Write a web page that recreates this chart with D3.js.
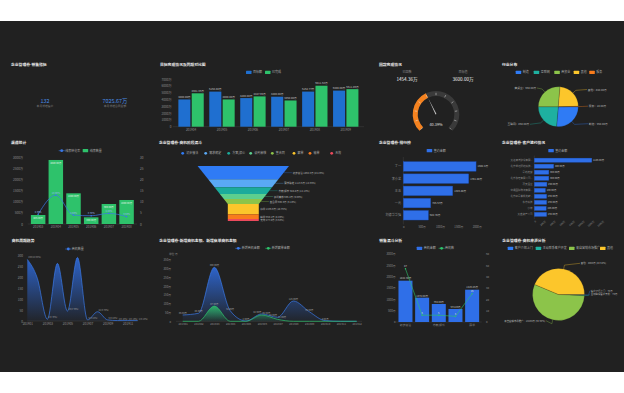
<!DOCTYPE html>
<html>
<head>
<meta charset="utf-8">
<script src="https://cdn.jsdelivr.net/npm/d3@7"></script>
<style>
body { margin: 0; background: #fff; }
svg { display: block; font-family: "Noto Sans CJK SC", "Noto Sans", sans-serif; }
</style>
</head>
<body>
<svg id="chart" width="624" height="393"></svg>
<script>
// ---- data ----
const kpiValues = ["132", "7025.67万"];
const kpiLabels = ["本月新增客户", "本月新增合同金额"];

const targetMonths = ["201904", "201905", "201906", "201907", "201908", "201909"];
const targetPlan = [4000, 5150.88, 4200, 4400, 5152.77, 5300];
const targetDone = [4901.36, 4000, 4447.95, 3850, 6011.53, 5511.86];

const gaugeDone = 1454.36;
const gaugeTarget = 3600;

const industryNames = ["制造", "互联网", "商贸业", "其他", "服务"];
const industryValues = [950, 850, 950, 840, 10];

const channelMonths = ["201903", "201904", "201905", "201906", "201907", "201908"];
const channelAmounts = [405, 2880, 1380, 300, 900, 1080];
const channelRates = [4.35, 13.0, 4.0, 3.7, 4.8, 3.3];

const funnelStages = ["初步接洽", "需求确定", "方案/报价", "谈判审核", "签合同", "赢单", "输单", "无效"];
const funnelValues = [1856.3, 1113.6, 928.8, 696.2, 696.9, 1435.9, 650.1, 277.8];

const rankNames = ["丁一", "李小龙", "王五", "一元", "刘德华华强"];
const rankValues = [1982.4, 1781.88, 1345.88, 745.57, 682.78];

const customerNames = ["大连港湾建设有限...", "北京世纪阳光科技...", "星光传媒", "北京鑫旺有限公司...", "蓝天酒业",
  "中通国际物流有限...", "北京红星美凯龙家...", "东方科技", "小米", "大唐资产公司"];
const customerValues = [1186, 400, 300, 300, 260, 230, 255, 255, 245, 255];

const trendMonths = ["201901", "201902", "201903", "201904", "201905", "201906",
  "201907", "201908", "201909", "201910", "201911", "201912"];
const trendValues = [280, 194, 8, 262, 45, 289, 5, 42, 5, 2, 2, 2];

const oppMonths = ["201901", "201902", "201903", "201904", "201905", "201906",
  "201907", "201908", "201909", "201910", "201911", "201912"];
const oppNew = [36, 46, 308, 61, 2, 42, 23, 116, 55, 4, 0, 0];
const oppWon = [0, 0, 87, 0, 0, 36, 11, 0, 0, 0, 0, 0];

const stageNames = ["初步接洽", "需求确定", "方案/报价", "谈判审核", "赢单"];
const stageAmounts = [1822.3, 1072, 794, 574.85, 1425.46];
const stageCounts = [47, 6, 6, 5, 25];

const sourceNames = ["客户介绍上门", "主动联系客户开发", "来自营销市场推广", "其他"];
const sourceValues = [70, 70, 10190, 8000];

// ---- setup ----
const svg = d3.select("#chart");
const AX = "#8c8c8c";
const LBL = "#c4c4c4";
const BLUE = "#2f6fe8";
const GREEN = "#2ec26b";

svg.append("rect").attr("x", 0).attr("y", 21).attr("width", 624).attr("height", 351).attr("fill", "#212121");

function title(x, y, t) {
  svg.append("text").attr("x", x).attr("y", y).attr("fill", "#e8e8e8")
    .attr("font-size", 3.8).attr("font-weight", "bold").text(t);
}

function txt(x, y, t, opts = {}) {
  return svg.append("text").attr("x", x).attr("y", y)
    .attr("fill", opts.fill || LBL).attr("font-size", opts.size || 3)
    .attr("text-anchor", opts.anchor || "start").text(t);
}

function styleAxis(g, size) {
  g.attr("font-size", size || 3.1).attr("font-family", null);
  g.select(".domain").remove();
  g.selectAll(".tick line").remove();
  g.selectAll(".tick text").attr("fill", AX);
  return g;
}

function legendRect(x, y, color, label) {
  svg.append("rect").attr("x", x).attr("y", y - 1.6).attr("width", 5.5).attr("height", 3.2).attr("rx", 0.5).attr("fill", color);
  txt(x + 7, y + 1.1, label, {fill: "#a8a8a8", size: 3});
}

function legendDot(x, y, color, label, withLine) {
  if (withLine) {
    svg.append("line").attr("x1", x - 3).attr("x2", x + 3).attr("y1", y).attr("y2", y).attr("stroke", color).attr("stroke-width", 0.6);
  }
  svg.append("circle").attr("cx", x).attr("cy", y).attr("r", 1.4).attr("fill", color);
  txt(x + 3.5, y + 1.1, label, {fill: "#a8a8a8", size: 3});
}

const defs = svg.append("defs");
function vGrad(id, color, top, bottom) {
  const g = defs.append("linearGradient").attr("id", id).attr("x1", 0).attr("y1", 0).attr("x2", 0).attr("y2", 1);
  g.append("stop").attr("offset", "0%").attr("stop-color", color).attr("stop-opacity", top);
  g.append("stop").attr("offset", "100%").attr("stop-color", color).attr("stop-opacity", bottom);
}
vGrad("gBlue", "#2f6fe8", 0.85, 0.05);
vGrad("gGreen", "#2ec26b", 0.85, 0.05);

// ---- panel 1: KPI ----
title(11, 65.5, "企业管理卷-销售指标");
[45, 115].forEach((cx, i) => {
  txt(cx, 102.6, kpiValues[i], {fill: "#4a8ee6", size: 5.4, anchor: "middle"});
  txt(cx, 107, kpiLabels[i], {fill: "#7c7c7c", size: 2.8, anchor: "middle"});
});

// ---- panel 2: target vs done ----
(function () {
  title(160, 65.5, "目标完成情况及同期对比图");
  legendRect(246, 72.3, "#1f6fd0", "目标额");
  legendRect(265, 72.3, GREEN, "已完成");
  const x = d3.scaleBand().domain(targetMonths).range([172.8, 364]).padding(0.18);
  const sub = d3.scaleBand().domain([0, 1]).range([0, x.bandwidth()]).paddingInner(0.1);
  const y = d3.scaleLinear().domain([0, 7000]).range([126.7, 79]);
  styleAxis(svg.append("g").attr("transform", "translate(172.5,0)")
    .call(d3.axisLeft(y).ticks(7).tickSize(0).tickPadding(1).tickFormat(d => d ? d + "万" : "0")));
  styleAxis(svg.append("g").attr("transform", "translate(0,126.7)")
    .call(d3.axisBottom(x).tickSize(0).tickPadding(2)));
  svg.append("line").attr("x1", 172.8).attr("x2", 364).attr("y1", 126.7).attr("y2", 126.7).attr("stroke", "#4a4a4a").attr("stroke-width", 0.4);
  [[targetPlan, "#1f6fd0"], [targetDone, GREEN]].forEach(([vals, color], k) => {
    targetMonths.forEach((m, i) => {
      const bx = x(m) + sub(k);
      svg.append("rect").attr("x", bx).attr("y", y(vals[i])).attr("width", sub.bandwidth())
        .attr("height", y(0) - y(vals[i])).attr("fill", color);
      txt(bx + sub.bandwidth() / 2, y(vals[i]) - 1.3, vals[i].toFixed(2) + "万", {size: 2.7, anchor: "middle"});
    });
  });
})();

// ---- panel 3: gauge ----
(function () {
  title(379, 65.5, "回款完成情况");
  txt(407, 73.2, "已回款", {fill: "#8a8a8a", size: 3, anchor: "middle"});
  txt(407, 80.8, gaugeDone.toFixed(2) + "万", {fill: "#f0f0f0", size: 4.6, anchor: "middle"});
  txt(463, 73.2, "目标值", {fill: "#8a8a8a", size: 3, anchor: "middle"});
  txt(463, 80.8, gaugeTarget.toFixed(2) + "万", {fill: "#f0f0f0", size: 4.6, anchor: "middle"});
  const cx = 436, cy = 114.3, r = 23.3;
  const ratio = gaugeDone / gaugeTarget;
  const ang = d3.scaleLinear().domain([0, 1]).range([-0.75 * Math.PI, 0.75 * Math.PI]);
  const g = svg.append("g").attr("transform", `translate(${cx},${cy})`);
  const arc = d3.arc().innerRadius(r - 5).outerRadius(r);
  g.append("path").attr("d", arc({startAngle: ang(0), endAngle: ang(1)})).attr("fill", "#3a3a3a");
  g.append("path").attr("d", arc({startAngle: ang(0), endAngle: ang(ratio)})).attr("fill", "#f5821f");
  d3.range(0, 1.0001, 0.1).forEach(t => {
    const a = ang(t);
    g.append("line").attr("x1", Math.sin(a) * (r - 4.2)).attr("y1", -Math.cos(a) * (r - 4.2))
      .attr("x2", Math.sin(a) * (r - 1.8)).attr("y2", -Math.cos(a) * (r - 1.8))
      .attr("stroke", "#e8e8e8").attr("stroke-width", 0.5);
  });
  const pa = ang(ratio), pl = r - 5;
  const px = Math.sin(pa), py = -Math.cos(pa);
  g.append("path").attr("d", `M${-py * 0.5},${px * 0.5} L${px * pl},${py * pl} L${py * 0.5},${-px * 0.5} Z`)
    .attr("fill", "#cfcfcf");
  txt(cx, 125.5, (Math.floor(ratio * 10000) / 100).toFixed(2) + "%", {fill: "#e0e0e0", size: 3.8, anchor: "middle"});
})();

// ---- pie helper ----
function drawPie(cx, cy, r, values, colors, labelFn, labelPos, labelSize) {
  const pie = d3.pie().sort(null).startAngle(Math.PI / 2).endAngle(Math.PI / 2 + 2 * Math.PI);
  const arcs = pie(values);
  const arc = d3.arc().innerRadius(0).outerRadius(r);
  const g = svg.append("g").attr("transform", `translate(${cx},${cy})`);
  g.selectAll("path").data(arcs).join("path").attr("d", arc).attr("fill", (d, i) => colors[i])
    .attr("stroke", "#212121").attr("stroke-width", 0.2);
  arcs.forEach((a, i) => {
    const p = labelPos[i];
    if (!p) return;
    const mid = (a.startAngle + a.endAngle) / 2;
    const sx = Math.sin(mid) * r, sy = -Math.cos(mid) * r;
    const ex = Math.sin(mid) * (r + 4), ey = -Math.cos(mid) * (r + 4);
    const lx = p[0] - cx, ly = p[1] - cy;
    g.append("polyline").attr("points", `${sx},${sy} ${ex},${ey} ${lx},${ly}`)
      .attr("fill", "none").attr("stroke", colors[i]).attr("stroke-width", 0.35);
    g.append("text").attr("x", lx + (p[2] === "end" ? -0.8 : 0.8)).attr("y", ly + 1)
      .attr("text-anchor", p[2]).attr("font-size", labelSize || 2.7).attr("fill", "#b8b8b8").text(labelFn(i, a));
  });
}

// ---- panel 4: industry pie ----
(function () {
  title(502, 65.5, "行业分布");
  const colors = ["#2f7bf5", "#1eb0a0", "#8cc44a", "#fcc62b", "#f97c1c"];
  const lx = [515.7, 533.7, 554.3, 573.7, 589.3];
  industryNames.forEach((n, i) => legendRect(lx[i], 72.3, colors[i], n));
  drawPie(558.3, 106.7, 20, industryValues, colors,
    i => industryNames[i] + "：" + industryValues[i].toFixed(2) + "万",
    [[588, 123.7, "start"], [530, 124.3, "end"], [537, 88, "end"], [587, 89.5, "start"], [588, 106.2, "start"]]);
})();

// ---- panel 5: channel bars + rate ----
(function () {
  title(11, 143.6, "渠道统计");
  legendDot(61.7, 150.7, "#3a78e6", "线索转化率", true);
  legendRect(82.7, 150.7, GREEN, "线索数量");
  const x = d3.scaleBand().domain(channelMonths).range([27.7, 137]).padding(0.18);
  const yL = d3.scaleLinear().domain([0, 3000]).range([224, 157.3]);
  const yR = d3.scaleLinear().domain([0, 30]).range([224, 157.3]);
  styleAxis(svg.append("g").attr("transform", "translate(23,0)")
    .call(d3.axisLeft(yL).ticks(6).tickSize(0).tickPadding(0).tickFormat(d => d ? d + "万" : "0")));
  styleAxis(svg.append("g").attr("transform", "translate(140,0)")
    .call(d3.axisRight(yR).ticks(6).tickSize(0).tickPadding(0)));
  styleAxis(svg.append("g").attr("transform", "translate(0,224)")
    .call(d3.axisBottom(x).tickSize(0).tickPadding(2)));
  svg.append("line").attr("x1", 27.7).attr("x2", 137).attr("y1", 224).attr("y2", 224).attr("stroke", "#4a4a4a").attr("stroke-width", 0.4);
  channelMonths.forEach((m, i) => {
    svg.append("rect").attr("x", x(m)).attr("y", yL(channelAmounts[i])).attr("width", x.bandwidth())
      .attr("height", yL(0) - yL(channelAmounts[i])).attr("fill", GREEN);
    txt(x(m) + x.bandwidth() / 2, yL(channelAmounts[i]) + 4, channelAmounts[i].toFixed(2) + "万", {size: 2.4, anchor: "middle", fill: "#e8f5ea"});
  });
  const line = d3.line().x((d, i) => x(channelMonths[i]) + x.bandwidth() / 2).y(d => yR(d)).curve(d3.curveMonotoneX);
  svg.append("path").attr("d", line(channelRates)).attr("fill", "none").attr("stroke", "#3a78e6").attr("stroke-width", 0.7);
  channelRates.forEach((v, i) => {
    const px = x(channelMonths[i]) + x.bandwidth() / 2;
    svg.append("circle").attr("cx", px).attr("cy", yR(v)).attr("r", 0.8).attr("fill", "#3a78e6");
    txt(px, yR(v) - 1.5, v.toFixed(2) + "%", {size: 2.4, anchor: "middle", fill: "#9ab8ee"});
  });
})();

// ---- panel 6: funnel ----
(function () {
  title(159, 143.6, "企业管理卷-商机阶段漏斗");
  const colors = ["#2f7bf5", "#5aa9f5", "#1bab9b", "#5ccf8e", "#8cc44a", "#fcc62b", "#f97c1c", "#ec4a5c"];
  const lx = [182.7, 205.7, 228.7, 250.7, 272.3, 294, 310, 331.7];
  funnelStages.forEach((n, i) => legendDot(lx[i], 153.3, colors[i], n, false));
  const cx = 243.3, yTop = 166, yNeck = 204, yBot = 221, wTop = 45.7, wNeck = 15.5;
  const hw = yy => yy <= yNeck ? wTop + (wNeck - wTop) * (yy - yTop) / (yNeck - yTop) : wNeck;
  const total = d3.sum(funnelValues);
  const y = d3.scaleLinear().domain([0, total]).range([yTop, yBot]);
  let acc = 0;
  funnelValues.forEach((v, i) => {
    const y0 = y(acc), y1 = y(acc + v);
    acc += v;
    const right = [[cx + hw(y0), y0]];
    if (y0 < yNeck && y1 > yNeck) right.push([cx + wNeck, yNeck]);
    right.push([cx + hw(y1), y1]);
    const left = right.map(p => [2 * cx - p[0], p[1]]).reverse();
    svg.append("path").attr("d", "M" + right.concat(left).map(p => p.join(",")).join("L") + "Z").attr("fill", colors[i]);
    const ym = (y0 + y1) / 2;
    const ex = cx + hw(ym);
    const off = hw(ym) > 16 ? 9 : 1.5;
    if (off > 2) {
      svg.append("line").attr("x1", ex).attr("x2", ex + off - 0.8).attr("y1", ym).attr("y2", ym)
        .attr("stroke", colors[i]).attr("stroke-width", 0.3);
    }
    txt(ex + off, ym + 1, `${funnelStages[i]} ${v.toFixed(1)}万 (${(v / total * 100).toFixed(2)}%)`, {size: 2.5, fill: "#b8b8b8"});
  });
})();

// ---- panel 7: ranking ----
(function () {
  title(379, 143.6, "企业管理卷-排行榜");
  legendRect(426.7, 150.7, BLUE, "签约金额");
  const y = d3.scaleBand().domain(rankNames).range([159, 222.7]).padding(0.22);
  const x = d3.scaleLinear().domain([0, 2000]).range([403.3, 476.7]);
  styleAxis(svg.append("g").attr("transform", "translate(0,225)")
    .call(d3.axisBottom(x).ticks(5).tickSize(0).tickPadding(1).tickFormat(d => d ? d + "万" : "0")), 2.8);
  styleAxis(svg.append("g").attr("transform", "translate(401,0)")
    .call(d3.axisLeft(y).tickSize(0).tickPadding(0)));
  svg.append("line").attr("x1", 403.3).attr("x2", 403.3).attr("y1", 157).attr("y2", 224.5).attr("stroke", "#4a4a4a").attr("stroke-width", 0.4);
  rankNames.forEach((n, i) => {
    svg.append("rect").attr("x", x(0)).attr("y", y(n)).attr("width", x(rankValues[i]) - x(0))
      .attr("height", y.bandwidth()).attr("fill", BLUE).attr("stroke", "#1b4fb8").attr("stroke-width", 0.4);
    txt(x(rankValues[i]) + 1.5, y(n) + y.bandwidth() / 2 + 1, rankValues[i] + "万", {size: 2.6});
  });
})();

// ---- panel 8: customers ----
(function () {
  title(502, 143.6, "企业管理卷-客户签约情况");
  legendRect(548.3, 150.7, BLUE, "签约金额");
  const y = d3.scaleBand().domain(customerNames).range([156.3, 218.3]).padding(0.3);
  const x = d3.scaleLinear().domain([0, 1400]).range([534.3, 602.2]);
  const gx = styleAxis(svg.append("g").attr("transform", "translate(0,220)")
    .call(d3.axisBottom(x).ticks(7).tickSize(0).tickPadding(1).tickFormat(d => d ? d + "万" : "0")), 2.5);
  gx.selectAll(".tick text").attr("transform", "rotate(-40)").attr("text-anchor", "end").attr("dy", "0.6em");
  styleAxis(svg.append("g").attr("transform", "translate(532.5,0)")
    .call(d3.axisLeft(y).tickSize(0).tickPadding(0)), 2.5);
  svg.append("line").attr("x1", 534.3).attr("x2", 534.3).attr("y1", 155.5).attr("y2", 219).attr("stroke", "#4a4a4a").attr("stroke-width", 0.4);
  customerNames.forEach((n, i) => {
    svg.append("rect").attr("x", x(0)).attr("y", y(n)).attr("width", x(customerValues[i]) - x(0))
      .attr("height", y.bandwidth()).attr("fill", BLUE).attr("stroke", "#1b4fb8").attr("stroke-width", 0.3);
    txt(x(customerValues[i]) + 1.2, y(n) + y.bandwidth() / 2 + 0.9, customerValues[i].toFixed(2) + "万", {size: 2.4});
  });
})();

// ---- panel 9: trend line ----
(function () {
  title(11.7, 242, "商机周期趋势");
  legendDot(68.3, 249, "#3a78e6", "商机数量", true);
  const x = d3.scalePoint().domain(trendMonths).range([27.3, 137.7]);
  const y = d3.scaleLinear().domain([0, 300]).range([321, 255]);
  styleAxis(svg.append("g").attr("transform", "translate(23,0)")
    .call(d3.axisLeft(y).ticks(6).tickSize(0).tickPadding(0)));
  styleAxis(svg.append("g").attr("transform", "translate(0,321)")
    .call(d3.axisBottom(x).tickValues(trendMonths.filter((d, i) => i % 2 === 0)).tickSize(0).tickPadding(2)));
  svg.append("line").attr("x1", 27.3).attr("x2", 137.7).attr("y1", 321).attr("y2", 321).attr("stroke", "#4a4a4a").attr("stroke-width", 0.4);
  const area = d3.area().x((d, i) => x(trendMonths[i])).y0(y(0)).y1(d => y(d)).curve(d3.curveMonotoneX);
  const line = d3.line().x((d, i) => x(trendMonths[i])).y(d => y(d)).curve(d3.curveMonotoneX);
  svg.append("path").attr("d", area(trendValues)).attr("fill", "url(#gBlue)");
  svg.append("path").attr("d", line(trendValues)).attr("fill", "none").attr("stroke", "#3a78e6").attr("stroke-width", 0.7);
  const sum = d3.sum(trendValues);
  trendValues.forEach((v, i) => {
    if (i % 2 === 0 || v < 50) {
      txt(x(trendMonths[i]) + 1, y(v) - 1, v + "(" + (v / sum * 100).toFixed(2) + "%)", {size: 2.2, fill: "#9a9a9a"});
    }
  });
})();

// ---- panel 10: opportunity amounts ----
(function () {
  title(159.3, 242, "企业管理卷-新增商机金额、新增赢单商机金额");
  legendDot(238.3, 248.3, "#3a78e6", "新增商机金额", true);
  legendDot(268.3, 248.3, GREEN, "新增赢单金额", true);
  txt(173.3, 255, "单位:万", {size: 2.7, fill: AX, anchor: "middle"});
  const x = d3.scalePoint().domain(oppMonths).range([182.7, 356.7]);
  const y = d3.scaleLinear().domain([0, 350]).range([321.3, 260]);
  styleAxis(svg.append("g").attr("transform", "translate(171,0)")
    .call(d3.axisLeft(y).ticks(7).tickSize(0).tickPadding(0).tickFormat(d => d ? d + "万" : "0")), 2.8);
  styleAxis(svg.append("g").attr("transform", "translate(0,321.3)")
    .call(d3.axisBottom(x).tickSize(0).tickPadding(2)), 2.8);
  svg.append("line").attr("x1", 176).attr("x2", 362).attr("y1", 321.3).attr("y2", 321.3).attr("stroke", "#4a4a4a").attr("stroke-width", 0.4);
  [[oppNew, "#3a78e6", "gBlue", 0], [oppWon, GREEN, "gGreen", 1]].forEach(([vals, color, grad, k]) => {
    const area = d3.area().x((d, i) => x(oppMonths[i])).y0(y(0)).y1(d => y(d)).curve(d3.curveMonotoneX);
    const line = d3.line().x((d, i) => x(oppMonths[i])).y(d => y(d)).curve(d3.curveMonotoneX);
    svg.append("path").attr("d", area(vals)).attr("fill", `url(#${grad})`);
    svg.append("path").attr("d", line(vals)).attr("fill", "none").attr("stroke", color).attr("stroke-width", 0.7);
    vals.forEach((v, i) => {
      if (v <= 0) return;
      const close = oppNew[i] > 0 && oppWon[i] > 0 && Math.abs(oppNew[i] - oppWon[i]) < 30;
      const lx = x(oppMonths[i]) + (close ? (k === 0 ? -0.5 : 0.5) : 0);
      const anchor = close ? (k === 0 ? "end" : "start") : "middle";
      txt(lx, y(v) - 1, v.toFixed(2) + "万", {size: 2.3, fill: "#a8a8a8", anchor: anchor});
    });
  });
})();

// ---- panel 11: stage bars + counts ----
(function () {
  title(379.3, 242, "销售漏斗分析");
  legendRect(416.7, 248.3, BLUE, "商机金额");
  legendDot(441.6, 248.3, GREEN, "商机数", true);
  const x = d3.scaleBand().domain(stageNames).range([395.8, 481.8]).padding(0.16);
  const yL = d3.scaleLinear().domain([0, 3000]).range([322, 254]);
  const yR = d3.scaleLinear().domain([0, 60]).range([322, 254]);
  styleAxis(svg.append("g").attr("transform", "translate(395.5,0)")
    .call(d3.axisLeft(yL).ticks(6).tickSize(0).tickPadding(0).tickFormat(d => d ? d + "万" : "0")), 2.8);
  styleAxis(svg.append("g").attr("transform", "translate(486,0)")
    .call(d3.axisRight(yR).ticks(6).tickSize(0).tickPadding(0)), 2.8);
  styleAxis(svg.append("g").attr("transform", "translate(0,322)")
    .call(d3.axisBottom(x).tickValues(stageNames.filter((d, i) => i % 2 === 0)).tickSize(0).tickPadding(2)), 2.8);
  svg.append("line").attr("x1", 395.8).attr("x2", 481.8).attr("y1", 322).attr("y2", 322).attr("stroke", "#4a4a4a").attr("stroke-width", 0.4);
  stageNames.forEach((n, i) => {
    svg.append("rect").attr("x", x(n)).attr("y", yL(stageAmounts[i])).attr("width", x.bandwidth())
      .attr("height", yL(0) - yL(stageAmounts[i])).attr("fill", BLUE);
    txt(x(n) + x.bandwidth() / 2, yL(stageAmounts[i]) - 1.2, stageAmounts[i].toFixed(2) + "万", {size: 2.5, anchor: "middle"});
  });
  const line = d3.line().x((d, i) => x(stageNames[i]) + x.bandwidth() / 2).y(d => yR(d));
  svg.append("path").attr("d", line(stageCounts)).attr("fill", "none").attr("stroke", GREEN).attr("stroke-width", 0.6);
  stageCounts.forEach((v, i) => {
    const px = x(stageNames[i]) + x.bandwidth() / 2;
    svg.append("circle").attr("cx", px).attr("cy", yR(v)).attr("r", 0.7).attr("fill", GREEN);
    txt(px, yR(v) - 1.3, v, {size: 2.5, anchor: "middle", fill: "#d8d8d8"});
  });
})();

// ---- panel 12: source pie ----
(function () {
  title(502.3, 242, "企业管理卷-商机来源分析");
  const colors = ["#2f7bf5", "#1eb0a0", "#8cc44a", "#fcc62b"];
  const lx = [507.7, 535.7, 569, 600];
  sourceNames.forEach((n, i) => legendRect(lx[i], 248.3, colors[i], n));
  const total = d3.sum(sourceValues);
  drawPie(558.5, 294.5, 26, sourceValues, colors,
    i => sourceNames[i] + "：" + sourceValues[i] + "万" + (sourceValues[i] > 1000 ? " (" + (sourceValues[i] / total * 100).toFixed(2) + "%)" : ""),
    [[590, 290.8, "start"], [590, 294.4, "start"], [546, 320.7, "end"], [580, 263.3, "start"]], 2.4);
})();
</script>
</body>
</html>
